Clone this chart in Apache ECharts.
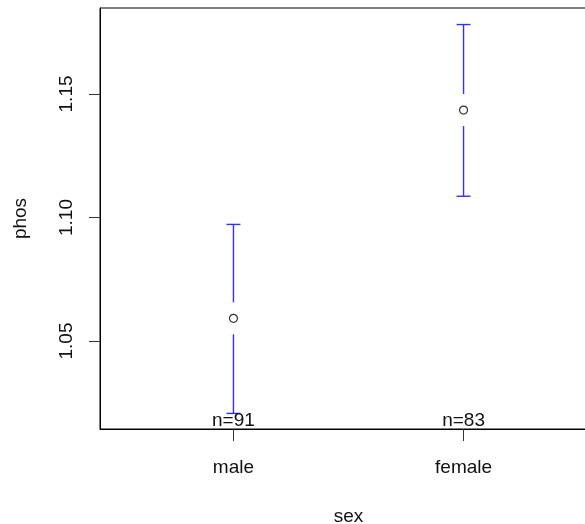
<!DOCTYPE html>
<html>
<head>
<meta charset="utf-8">
<script src="https://cdn.jsdelivr.net/npm/echarts@6/dist/echarts.min.js"></script>
<style>
  html, body { margin: 0; padding: 0; background: #fff; }
  #chart { width: 585px; height: 524px; }
</style>
</head>
<body>
<div id="chart"></div>
<script>
// 各组的均值与置信区间
const categories = ['male', 'female']
const positions = [1, 2]
const means = [1.0592, 1.1435]
const lower = [1.0207, 1.1086]
const upper = [1.0972, 1.1781]
const counts = [91, 83]
const yTicks = [1.05, 1.10, 1.15]

const FONT = 'Liberation Sans, Arial, sans-serif'
const chart = echarts.init(document.getElementById('chart'))

const barData = positions.map((p, i) => [p, means[i], lower[i], upper[i], counts[i]])
const meanData = positions.map((p, i) => [p, means[i]])

// 误差线：中间留出空隙给均值圆点
const renderBar = (params, api) => {
  const x = api.value(0)
  const pMean = api.coord([x, api.value(1)])
  const pLow = api.coord([x, api.value(2)])
  const pHigh = api.coord([x, api.value(3)])
  const gap = 16
  const cap = 7
  const bottom = params.coordSys.y + params.coordSys.height
  const style = { stroke: '#3030ff', lineWidth: 1.4 }
  return {
    type: 'group',
    children: [
      { type: 'line', shape: { x1: pHigh[0], y1: pHigh[1], x2: pMean[0], y2: pMean[1] - gap }, style },
      { type: 'line', shape: { x1: pMean[0], y1: pMean[1] + gap, x2: pLow[0], y2: pLow[1] }, style },
      { type: 'line', shape: { x1: pHigh[0] - cap, y1: pHigh[1], x2: pHigh[0] + cap, y2: pHigh[1] }, style },
      { type: 'line', shape: { x1: pLow[0] - cap, y1: pLow[1], x2: pLow[0] + cap, y2: pLow[1] }, style },
      {
        type: 'text',
        x: pMean[0],
        y: bottom + 1,
        style: {
          text: 'n=' + api.value(4),
          fill: '#111',
          font: '19px ' + FONT,
          textAlign: 'center',
          textVerticalAlign: 'bottom'
        }
      }
    ]
  }
}

const option = {
  animation: false,
  grid: {
    left: 100,
    top: 8,
    width: 497,
    height: 421,
    outerBoundsMode: 'none',
    containLabel: false,
    show: true,
    borderColor: '#000',
    borderWidth: 1
  },
  xAxis: {
    type: 'value',
    min: 0.42,
    max: 2.58,
    name: 'sex',
    nameLocation: 'middle',
    nameGap: 78,
    nameTextStyle: { fontSize: 19, color: '#111', fontFamily: FONT },
    splitLine: { show: false },
    axisLine: { show: true, lineStyle: { color: '#000' } },
    axisTick: {
      show: true,
      length: 12,
      customValues: positions,
      lineStyle: { color: '#333' }
    },
    axisLabel: {
      customValues: positions,
      margin: 29,
      fontSize: 19,
      color: '#111',
      fontFamily: FONT,
      formatter: v => categories[positions.indexOf(v)] || ''
    }
  },
  yAxis: {
    type: 'value',
    min: 1.0144,
    max: 1.1848,
    name: 'phos',
    nameLocation: 'middle',
    nameGap: 70,
    nameTextStyle: { fontSize: 19, color: '#111', fontFamily: FONT },
    splitLine: { show: false },
    axisLine: { show: true, lineStyle: { color: '#000' } },
    axisTick: {
      show: true,
      length: 11,
      customValues: yTicks,
      lineStyle: { color: '#333' }
    },
    axisLabel: {
      customValues: yTicks,
      rotate: 90,
      margin: 24,
      fontSize: 19,
      color: '#111',
      fontFamily: FONT,
      formatter: v => v.toFixed(2)
    }
  },
  series: [
    {
      type: 'custom',
      renderItem: renderBar,
      data: barData,
      clip: false,
      silent: true
    },
    {
      type: 'scatter',
      data: meanData,
      symbol: 'circle',
      symbolSize: 8,
      itemStyle: { color: '#fff', borderColor: '#000', borderWidth: 1.2 },
      silent: true
    }
  ]
}

chart.setOption(option)
</script>
</body>
</html>
